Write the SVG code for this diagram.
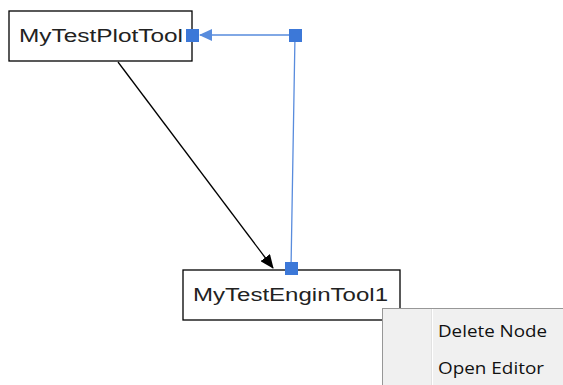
<svg xmlns="http://www.w3.org/2000/svg" width="563" height="385" viewBox="0 0 563 385">
<style>
.node{fill:#fff;stroke:#000;stroke-width:1.3}
.lbl{font-family:"Liberation Sans",Arial,sans-serif;font-size:18px;fill:#222}
.h{fill:#3c78d8}
.menu{font-family:"Open Sans","Noto Sans",sans-serif;font-size:16.5px;fill:#111}
</style>
<defs>
<marker id="ab" markerWidth="14" markerHeight="12" refX="13" refY="6" orient="auto" markerUnits="userSpaceOnUse">
<path d="M0,0 L14,6 L0,12 Z" fill="#000"/>
</marker>
<marker id="ablue" markerWidth="13" markerHeight="12" refX="12" refY="6" orient="auto" markerUnits="userSpaceOnUse">
<path d="M0,0 L13,6 L0,12 Z" fill="#3c78d8"/>
</marker>
</defs>
<rect width="563" height="385" fill="#fff"/>
<g id="connectors">
<line x1="118" y1="62" x2="273" y2="268" stroke="#000" stroke-width="1.3" marker-end="url(#ab)"/>
<polyline points="291,269 295,35 200,35" fill="none" stroke="#3c78d8" stroke-width="1.3" opacity="0.85" marker-end="url(#ablue)"/>
</g>
<g id="node-plot">
<rect class="node" x="9" y="11" width="183" height="50"/>
<text class="lbl" x="19" y="42" textLength="164" lengthAdjust="spacingAndGlyphs">MyTestPlotTool</text>
</g>
<g id="node-engin">
<rect class="node" x="183" y="270" width="217" height="50"/>
<text class="lbl" x="193" y="301" textLength="195" lengthAdjust="spacingAndGlyphs">MyTestEnginTool1</text>
</g>
<g id="handles">
<rect class="h" x="186" y="29" width="13" height="13"/>
<rect class="h" x="289" y="29" width="13" height="13"/>
<rect class="h" x="285" y="262" width="13" height="13"/>
</g>
<g id="context-menu">
<rect x="382.5" y="308.5" width="190" height="90" fill="#f0f0f0" stroke="#979797"/>
<line x1="431.5" y1="309" x2="431.5" y2="385" stroke="#e2e2e2"/>
<line x1="432.5" y1="309" x2="432.5" y2="385" stroke="#fff"/>
<text class="menu" x="438" y="337" textLength="109" lengthAdjust="spacingAndGlyphs">Delete Node</text>
<text class="menu" x="438" y="374" textLength="106" lengthAdjust="spacingAndGlyphs">Open Editor</text>
</g>
</svg>
